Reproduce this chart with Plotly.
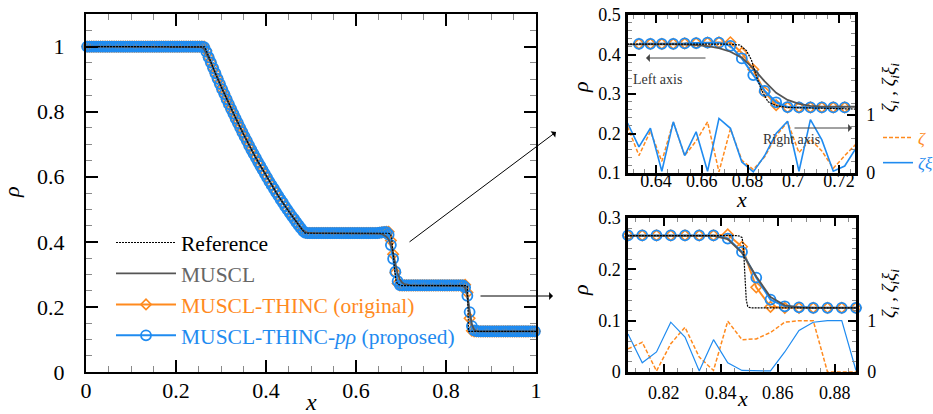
import plotly.graph_objects as go

# ---------------- data ----------------
X_CELLS = [
    0.0025, 0.0075, 0.0125, 0.0175, 0.0225, 0.0275, 0.0325, 0.0375, 0.0425, 0.0475,
    0.0525, 0.0575, 0.0625, 0.0675, 0.0725, 0.0775, 0.0825, 0.0875, 0.0925, 0.0975,
    0.1025, 0.1075, 0.1125, 0.1175, 0.1225, 0.1275, 0.1325, 0.1375, 0.1425, 0.1475,
    0.1525, 0.1575, 0.1625, 0.1675, 0.1725, 0.1775, 0.1825, 0.1875, 0.1925, 0.1975,
    0.2025, 0.2075, 0.2125, 0.2175, 0.2225, 0.2275, 0.2325, 0.2375, 0.2425, 0.2475,
    0.2525, 0.2575, 0.2625, 0.2675, 0.2725, 0.2775, 0.2825, 0.2875, 0.2925, 0.2975,
    0.3025, 0.3075, 0.3125, 0.3175, 0.3225, 0.3275, 0.3325, 0.3375, 0.3425, 0.3475,
    0.3525, 0.3575, 0.3625, 0.3675, 0.3725, 0.3775, 0.3825, 0.3875, 0.3925, 0.3975,
    0.4025, 0.4075, 0.4125, 0.4175, 0.4225, 0.4275, 0.4325, 0.4375, 0.4425, 0.4475,
    0.4525, 0.4575, 0.4625, 0.4675, 0.4725, 0.4775, 0.4825, 0.4875, 0.4925, 0.4975,
    0.5025, 0.5075, 0.5125, 0.5175, 0.5225, 0.5275, 0.5325, 0.5375, 0.5425, 0.5475,
    0.5525, 0.5575, 0.5625, 0.5675, 0.5725, 0.5775, 0.5825, 0.5875, 0.5925, 0.5975,
    0.6025, 0.6075, 0.6125, 0.6175, 0.6225, 0.6275, 0.6325, 0.6375, 0.6425, 0.6475,
    0.6525, 0.6575, 0.6625, 0.6675, 0.6725, 0.6775, 0.6825, 0.6875, 0.6925, 0.6975,
    0.7025, 0.7075, 0.7125, 0.7175, 0.7225, 0.7275, 0.7325, 0.7375, 0.7425, 0.7475,
    0.7525, 0.7575, 0.7625, 0.7675, 0.7725, 0.7775, 0.7825, 0.7875, 0.7925, 0.7975,
    0.8025, 0.8075, 0.8125, 0.8175, 0.8225, 0.8275, 0.8325, 0.8375, 0.8425, 0.8475,
    0.8525, 0.8575, 0.8625, 0.8675, 0.8725, 0.8775, 0.8825, 0.8875, 0.8925, 0.8975,
    0.9025, 0.9075, 0.9125, 0.9175, 0.9225, 0.9275, 0.9325, 0.9375, 0.9425, 0.9475,
    0.9525, 0.9575, 0.9625, 0.9675, 0.9725, 0.9775, 0.9825, 0.9875, 0.9925, 0.9975,
]

RHO_PROPOSED = [
    1.0, 1.0, 1.0, 1.0, 1.0, 1.0, 1.0, 1.0, 1.0, 1.0,
    1.0, 1.0, 1.0, 1.0, 1.0, 1.0, 1.0, 1.0, 1.0, 1.0,
    1.0, 1.0, 1.0, 1.0, 1.0, 1.0, 1.0, 1.0, 1.0, 1.0,
    1.0, 1.0, 1.0, 1.0, 1.0, 1.0, 1.0, 1.0, 1.0, 1.0,
    1.0, 1.0, 1.0, 1.0, 1.0, 1.0, 1.0, 1.0, 1.0, 1.0,
    1.0, 1.0, 0.998, 0.984, 0.967, 0.951, 0.934, 0.918, 0.901, 0.885,
    0.869, 0.854, 0.838, 0.823, 0.808, 0.794, 0.779, 0.765, 0.751, 0.737,
    0.723, 0.710, 0.696, 0.683, 0.670, 0.658, 0.645, 0.633, 0.621, 0.609,
    0.597, 0.585, 0.574, 0.563, 0.552, 0.541, 0.530, 0.520, 0.509, 0.499,
    0.489, 0.479, 0.470, 0.460, 0.451, 0.442, 0.433, 0.428, 0.427, 0.427,
    0.427, 0.427, 0.427, 0.427, 0.427, 0.427, 0.427, 0.427, 0.427, 0.427,
    0.427, 0.427, 0.427, 0.427, 0.427, 0.427, 0.427, 0.427, 0.427, 0.427,
    0.427, 0.427, 0.427, 0.427, 0.427, 0.427, 0.427, 0.427, 0.427, 0.427,
    0.428, 0.429, 0.430, 0.430, 0.422, 0.390, 0.348, 0.308, 0.279, 0.267,
    0.266, 0.266, 0.266, 0.266, 0.266, 0.266, 0.266, 0.266, 0.266, 0.266,
    0.266, 0.266, 0.266, 0.266, 0.266, 0.266, 0.266, 0.266, 0.266, 0.266,
    0.266, 0.266, 0.266, 0.266, 0.266, 0.266, 0.266, 0.266, 0.260, 0.234,
    0.184, 0.141, 0.128, 0.126, 0.125, 0.125, 0.125, 0.125, 0.125, 0.125,
    0.125, 0.125, 0.125, 0.125, 0.125, 0.125, 0.125, 0.125, 0.125, 0.125,
    0.125, 0.125, 0.125, 0.125, 0.125, 0.125, 0.125, 0.125, 0.125, 0.125,
]

RHO_ORIGINAL = [
    1.0, 1.0, 1.0, 1.0, 1.0, 1.0, 1.0, 1.0, 1.0, 1.0,
    1.0, 1.0, 1.0, 1.0, 1.0, 1.0, 1.0, 1.0, 1.0, 1.0,
    1.0, 1.0, 1.0, 1.0, 1.0, 1.0, 1.0, 1.0, 1.0, 1.0,
    1.0, 1.0, 1.0, 1.0, 1.0, 1.0, 1.0, 1.0, 1.0, 1.0,
    1.0, 1.0, 1.0, 1.0, 1.0, 1.0, 1.0, 1.0, 1.0, 1.0,
    1.0, 1.0, 1.0, 0.987, 0.967, 0.951, 0.934, 0.918, 0.901, 0.885,
    0.869, 0.854, 0.838, 0.823, 0.808, 0.794, 0.779, 0.765, 0.751, 0.737,
    0.723, 0.710, 0.696, 0.683, 0.670, 0.658, 0.645, 0.633, 0.621, 0.609,
    0.597, 0.585, 0.574, 0.563, 0.552, 0.541, 0.530, 0.520, 0.509, 0.499,
    0.489, 0.479, 0.470, 0.460, 0.451, 0.442, 0.433, 0.428, 0.427, 0.427,
    0.427, 0.427, 0.427, 0.427, 0.427, 0.427, 0.427, 0.427, 0.427, 0.427,
    0.427, 0.427, 0.427, 0.427, 0.427, 0.427, 0.427, 0.427, 0.427, 0.427,
    0.427, 0.427, 0.427, 0.427, 0.427, 0.427, 0.427, 0.427, 0.427, 0.427,
    0.428, 0.429, 0.430, 0.431, 0.431, 0.404, 0.362, 0.305, 0.272, 0.266,
    0.266, 0.266, 0.266, 0.266, 0.266, 0.266, 0.266, 0.266, 0.266, 0.266,
    0.266, 0.266, 0.266, 0.266, 0.266, 0.266, 0.266, 0.266, 0.266, 0.266,
    0.266, 0.266, 0.266, 0.266, 0.266, 0.266, 0.266, 0.266, 0.268, 0.244,
    0.165, 0.127, 0.125, 0.125, 0.125, 0.125, 0.125, 0.125, 0.125, 0.125,
    0.125, 0.125, 0.125, 0.125, 0.125, 0.125, 0.125, 0.125, 0.125, 0.125,
    0.125, 0.125, 0.125, 0.125, 0.125, 0.125, 0.125, 0.125, 0.125, 0.125,
]

RHO_MUSCL = [
    1.0, 1.0, 1.0, 1.0, 1.0, 1.0, 1.0, 1.0, 1.0, 1.0,
    1.0, 1.0, 1.0, 1.0, 1.0, 1.0, 1.0, 1.0, 1.0, 1.0,
    1.0, 1.0, 1.0, 1.0, 1.0, 1.0, 1.0, 1.0, 1.0, 1.0,
    1.0, 1.0, 1.0, 1.0, 1.0, 1.0, 1.0, 1.0, 1.0, 1.0,
    1.0, 1.0, 1.0, 1.0, 1.0, 1.0, 1.0, 1.0, 1.0, 1.0,
    1.0, 0.998, 0.992, 0.979, 0.964, 0.951, 0.934, 0.918, 0.901, 0.885,
    0.869, 0.854, 0.838, 0.823, 0.808, 0.794, 0.779, 0.765, 0.751, 0.737,
    0.723, 0.710, 0.696, 0.683, 0.670, 0.658, 0.645, 0.633, 0.621, 0.609,
    0.597, 0.585, 0.574, 0.563, 0.552, 0.541, 0.530, 0.520, 0.509, 0.499,
    0.489, 0.479, 0.470, 0.460, 0.451, 0.443, 0.436, 0.430, 0.428, 0.427,
    0.427, 0.427, 0.427, 0.427, 0.427, 0.427, 0.427, 0.427, 0.427, 0.427,
    0.427, 0.427, 0.427, 0.427, 0.427, 0.427, 0.427, 0.427, 0.427, 0.427,
    0.427, 0.427, 0.427, 0.427, 0.427, 0.427, 0.426, 0.426, 0.426, 0.4255,
    0.425, 0.424, 0.421, 0.416, 0.407, 0.392, 0.365, 0.332, 0.303, 0.285,
    0.275, 0.270, 0.268, 0.267, 0.266, 0.266, 0.266, 0.266, 0.266, 0.266,
    0.266, 0.266, 0.266, 0.266, 0.266, 0.266, 0.266, 0.266, 0.266, 0.266,
    0.266, 0.266, 0.266, 0.266, 0.266, 0.266, 0.266, 0.265, 0.259, 0.232,
    0.186, 0.146, 0.130, 0.126, 0.125, 0.125, 0.125, 0.125, 0.125, 0.125,
    0.125, 0.125, 0.125, 0.125, 0.125, 0.125, 0.125, 0.125, 0.125, 0.125,
    0.125, 0.125, 0.125, 0.125, 0.125, 0.125, 0.125, 0.125, 0.125, 0.125,
]

REF_X = [0.0, 0.2615, 0.2635, 0.267, 0.275, 0.2875, 0.3, 0.325, 0.35, 0.375, 0.4, 0.425,
         0.45, 0.4675, 0.4775, 0.4825, 0.4855, 0.488, 0.4925, 0.672, 0.6766, 0.6795,
         0.6817, 0.6839, 0.6861, 0.689, 0.6927, 0.697, 0.701, 0.8455, 0.8465, 0.8475,
         0.848, 0.8485, 0.849, 0.8495, 0.850, 0.851, 1.0]
REF_RHO = [1.0, 1.0, 0.999, 0.989, 0.960, 0.918, 0.877, 0.801, 0.730, 0.664, 0.603, 0.546,
           0.494, 0.460, 0.442, 0.433, 0.428, 0.4265, 0.4263, 0.4263, 0.424, 0.410,
           0.386, 0.344, 0.310, 0.280, 0.270, 0.2665, 0.2656, 0.2656, 0.265, 0.262,
           0.245, 0.19, 0.14, 0.128, 0.126, 0.125, 0.125]

# indicator values shown in the insets (right axis)
ZETA_X_TOP = [0.6275, 0.6325, 0.6375, 0.6425, 0.6475, 0.6525, 0.6575, 0.6625, 0.6675, 0.6725,
              0.6775, 0.6825, 0.6875, 0.6925, 0.6975, 0.7025, 0.7075, 0.7125, 0.7175, 0.7225,
              0.7275]
ZETA_TOP = [0.80, 0.30, 0.72, 0.20, 0.88, 0.30, 0.55, 0.88, 0.02, 0.76, 0.22,
            0.06, 0.28, 0.64, 0.88, 0.35, 0.58, 0.38, 0.08, 0.30, 0.50]
ZETAXI_TOP = [0.86, 0.45, 0.77, 0.03, 0.88, 0.30, 0.71, 0.03, 0.94, 0.77, 0.19,
              0.02, 0.30, 0.68, 0.89, 0.03, 0.92, 0.57, 0.03, 0.12, 0.43]

ZETA_X_BOT = [0.8075, 0.8125, 0.8175, 0.8225, 0.8275, 0.8325, 0.8375, 0.8425, 0.8475,
              0.8525, 0.8575, 0.8625, 0.8675, 0.8725, 0.8775, 0.8825, 0.8875]
ZETA_BOT = [0.45, 0.58, 0.02, 0.55, 0.87, 0.29, 0.03, 0.99, 0.63, 0.645, 0.77, 0.97,
            1.0, 1.0, 0.0, 0.0, 0.0]
ZETAXI_BOT = [0.74, 0.18, 0.39, 0.97, 0.68, 0.02, 0.63, 0.18, 0.03, 0.02, 0.02, 0.39,
              0.81, 0.97, 1.0, 1.0, 0.03]

# ---------------- styling ----------------
FONT = '"Liberation Serif", "Times New Roman", Times, "DejaVu Serif", serif'
BLUE = "#1f8bf0"
ORANGE = "#ff8a1e"
GRAY = "#555555"
W, H = 933, 414


def px(xp):
    return xp / W


def py(yp):
    return 1 - yp / H


fig = go.Figure()

NAMES = {
    "ref": "Reference",
    "mu": '<span style="color:#666666">MUSCL</span>',
    "or": '<span style="color:%s">MUSCL-THINC (original)</span>' % ORANGE,
    "pp": '<span style="color:%s">MUSCL-THINC-<i>pρ</i> (proposed)</span>' % BLUE,
}


def add_rho(xa, ya, sl, show):
    fig.add_trace(go.Scatter(
        x=X_CELLS[sl], y=RHO_ORIGINAL[sl], xaxis=xa, yaxis=ya, mode="lines+markers",
        line=dict(color=ORANGE, width=2),
        marker=dict(symbol="diamond-open", size=8, color=ORANGE,
                    line=dict(width=1.6, color=ORANGE)),
        cliponaxis=False, name=NAMES["or"], showlegend=show, legendrank=3))
    fig.add_trace(go.Scatter(
        x=X_CELLS[sl], y=RHO_PROPOSED[sl], xaxis=xa, yaxis=ya, mode="lines+markers",
        line=dict(color=BLUE, width=2),
        marker=dict(symbol="circle-open", size=10, color=BLUE,
                    line=dict(width=1.8, color=BLUE)),
        cliponaxis=False, name=NAMES["pp"], showlegend=show, legendrank=4))
    fig.add_trace(go.Scatter(
        x=X_CELLS, y=RHO_MUSCL, xaxis=xa, yaxis=ya, mode="lines",
        line=dict(color=GRAY, width=1.8), name=NAMES["mu"], showlegend=show, legendrank=2))
    fig.add_trace(go.Scatter(
        x=REF_X, y=REF_RHO, xaxis=xa, yaxis=ya, mode="lines",
        line=dict(color="black", width=1.2, dash="2px,1px"),
        name=NAMES["ref"], showlegend=show, legendrank=1))


# main plot
add_rho("x", "y", slice(0, 200), True)

# top inset: indicators first (below)
fig.add_trace(go.Scatter(x=ZETA_X_TOP, y=ZETA_TOP, xaxis="x2", yaxis="y3", mode="lines",
                         line=dict(color=ORANGE, width=1.5, dash="4px,2px"),
                         name='<span style="color:%s"><i>ζ</i></span>' % ORANGE,
                         legend="legend2", showlegend=True))
fig.add_trace(go.Scatter(x=ZETA_X_TOP, y=ZETAXI_TOP, xaxis="x2", yaxis="y3", mode="lines",
                         line=dict(color=BLUE, width=1.6),
                         name='<span style="color:%s"><i>ζξ</i></span>' % BLUE,
                         legend="legend2", showlegend=True))
add_rho("x2", "y2", slice(126, 145), False)

# bottom inset
fig.add_trace(go.Scatter(x=ZETA_X_BOT, y=ZETA_BOT, xaxis="x3", yaxis="y5", mode="lines",
                         line=dict(color=ORANGE, width=1.5, dash="4px,2px"), showlegend=False))
fig.add_trace(go.Scatter(x=ZETA_X_BOT, y=ZETAXI_BOT, xaxis="x3", yaxis="y5", mode="lines",
                         line=dict(color=BLUE, width=1.2), showlegend=False))
add_rho("x3", "y4", slice(161, 178), False)


def axis(rng, dtick, mdtick, dom, anchor, size, tl, mtl, lw, standoff, mirror="ticks"):
    return dict(
        range=rng, domain=dom, anchor=anchor, tick0=0, dtick=dtick, automargin=False,
        ticks="inside", ticklen=tl, tickwidth=2, tickcolor="black",
        showline=True, linecolor="black", linewidth=lw, mirror=mirror,
        showgrid=False, zeroline=False,
        tickfont=dict(family=FONT, size=size, color="black"),
        ticklabelstandoff=standoff,
        minor=dict(tick0=0, dtick=mdtick, ticks="inside", ticklen=mtl,
                   tickwidth=1.2, tickcolor="#8a8a8a", showgrid=False),
    )


layout = dict(
    width=W, height=H, margin=dict(l=0, r=0, t=0, b=0, autoexpand=False),
    paper_bgcolor="white", plot_bgcolor="white",
    font=dict(family=FONT, color="black"),
    xaxis=axis([0, 1], 0.2, 0.05, [px(86), px(536)], "y", 22, 12, 6, 2, -2),
    yaxis=axis([0, 1.1], 0.2, 0.05, [py(372), py(14)], "x", 22, 12, 6, 2, 15),
    xaxis2=axis([0.6277, 0.7270], 0.02, 0.005, [px(628), px(855)], "y2", 18, 8, 4, 2.5, -10),
    yaxis2=axis([0.1, 0.5], 0.1, 0.02, [py(173), py(15)], "x2", 18, 8, 4, 2.5, 1, mirror=True),
    xaxis3=axis([0.8075, 0.8875], 0.02, 0.005, [px(628), px(856)], "y4", 18, 8, 4, 2.5, 3),
    yaxis4=axis([0, 0.3], 0.1, 0.02, [py(372), py(218)], "x3", 18, 8, 4, 2.5, 1, mirror=True),
    legend=dict(x=px(111), y=py(222), xanchor="left", yanchor="top", itemwidth=60,
                bgcolor="rgba(0,0,0,0)", font=dict(family=FONT, size=21.5),
                tracegroupgap=0, traceorder="normal"),
    legend2=dict(x=px(878), y=py(120), xanchor="left", yanchor="top",
                 bgcolor="rgba(0,0,0,0)", font=dict(family=FONT, size=17),
                 tracegroupgap=0),
)

for name, ov, anc, rng, dom in [("yaxis3", "y2", "x2", [0, 2.72], [py(173), py(15)]),
                                ("yaxis5", "y4", "x3", [0, 3.0], [py(372), py(218)])]:
    layout[name] = dict(
        overlaying=ov, anchor=anc, side="right", range=rng, automargin=False,
        tickmode="array", tickvals=[0, 1], ticktext=["0", "1"],
        ticks="inside", ticklen=8, tickwidth=2, tickcolor="black",
        showline=True, linecolor="black", linewidth=2.5,
        showgrid=False, zeroline=False,
        tickfont=dict(family=FONT, size=18, color="black"), ticklabelstandoff=5,
        minor=dict(tickmode="linear", tick0=0, dtick=0.2, ticks="inside", ticklen=4,
                   tickwidth=1.2, tickcolor="#8a8a8a"),
    )

fig.update_layout(**layout)

ann = []


def title(x, y, text, size, angle=0):
    ann.append(dict(x=px(x), y=py(y), xref="paper", yref="paper", text=text,
                    showarrow=False, textangle=angle, xanchor="center", yanchor="middle",
                    font=dict(family=FONT, size=size, color="black")))


title(11, 192, "<i>ρ</i>", 22, -90)
title(311, 402, "<i>x</i>", 24)
title(580, 87, "<i>ρ</i>", 22, -90)
title(741, 200, "<i>x</i>", 22)
title(580, 290, "<i>ρ</i>", 22, -90)
title(742, 398, "<i>x</i>", 22)
title(890, 88, "<i>ζ<sub>i</sub> , ζ<sub>i</sub>ξ<sub>i</sub></i>", 19, -90)
title(890, 294, "<i>ζ<sub>i</sub> , ζ<sub>i</sub>ξ<sub>i</sub></i>", 19, -90)


def arrow(x_head, y_head, x_tail, y_tail, color="black", width=1):
    ann.append(dict(x=px(x_head), y=py(y_head), xref="paper", yref="paper",
                    ax=x_tail - x_head, ay=y_tail - y_head, axref="pixel", ayref="pixel",
                    text="", showarrow=True, arrowhead=1, arrowsize=1.3,
                    arrowwidth=width, arrowcolor=color))


arrow(556, 132, 408, 243)
arrow(553, 296, 479, 296)
arrow(646, 58, 707, 58, "#444444")
arrow(852, 128, 793, 128, "#444444")
ann.append(dict(x=px(684), y=py(70), xref="paper", yref="paper", text="Left axis",
                showarrow=False, font=dict(family=FONT, size=14, color="#333333")))
ann.append(dict(x=px(822), y=py(140), xref="paper", yref="paper", text="Right axis",
                showarrow=False, font=dict(family=FONT, size=14, color="#333333")))

fig.update_layout(annotations=ann)

fig.write_html("out.html")
